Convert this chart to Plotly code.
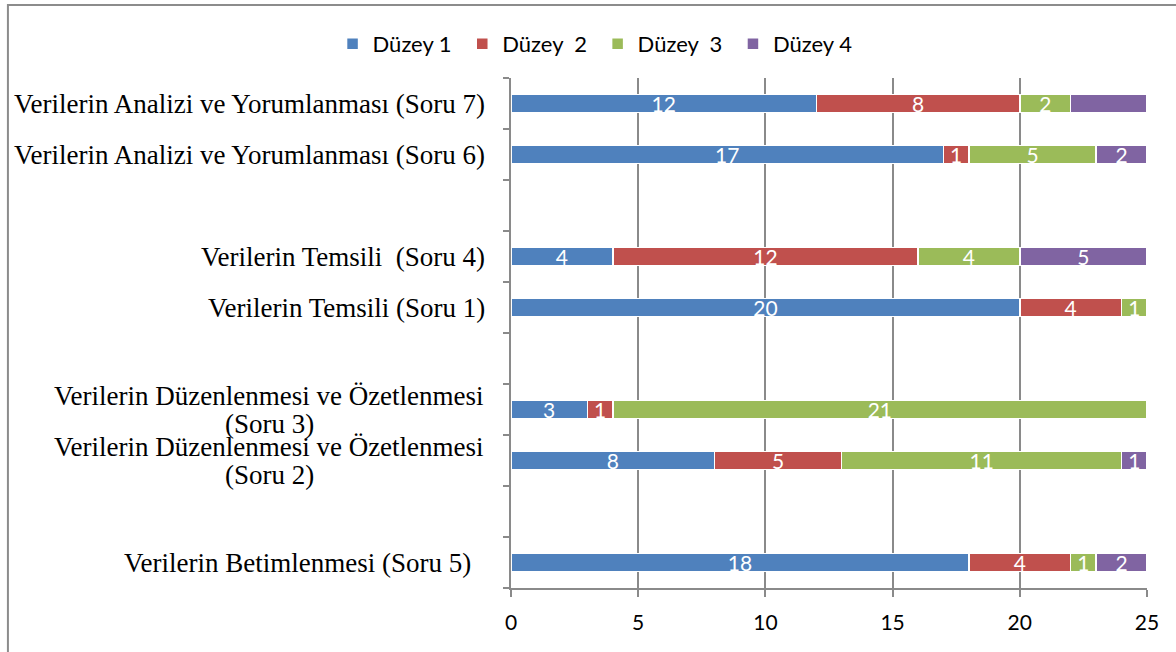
import plotly.graph_objects as go

# Categories from bottom to top (blank names are spacer rows)
categories = [
    "Verilerin Betimlenmesi (Soru 5)\u00a0\u00a0",
    " ",
    "Verilerin Düzenlenmesi ve Özetlenmesi (Soru 2)",
    "Verilerin Düzenlenmesi ve Özetlenmesi (Soru 3)",
    "  ",
    "Verilerin Temsili (Soru 1)",
    "Verilerin Temsili \u00a0(Soru 4)",
    "   ",
    "Verilerin Analizi ve Yorumlanması (Soru 6)",
    "Verilerin Analizi ve Yorumlanması (Soru 7)",
]
# categories whose label is wrapped on two centred lines
wrapped_labels = {
    "Verilerin Düzenlenmesi ve Özetlenmesi (Soru 2)": ["Verilerin Düzenlenmesi ve Özetlenmesi", "(Soru 2)"],
    "Verilerin Düzenlenmesi ve Özetlenmesi (Soru 3)": ["Verilerin Düzenlenmesi ve Özetlenmesi", "(Soru 3)"],
}

series_names = ["Düzey 1\u00a0", "Düzey \u00a02\u00a0", "Düzey \u00a03\u00a0", "Düzey 4"]
duzey1 = [18, None, 8, 3, None, 20, 4, None, 17, 12]
duzey2 = [4, None, 5, 1, None, 4, 12, None, 1, 8]
duzey3 = [1, None, 11, 21, None, 1, 4, None, 5, 2]
duzey4 = [2, None, 1, None, None, None, 5, None, 2, 3]
# value labels not displayed in the original (series index, category index)
hidden_labels = [(3, 9)]

colors = ["#4F81BD", "#C0504D", "#9BBB59", "#8064A2"]
x_ticks = [0, 5, 10, 15, 20, 25]

fig = go.Figure()
for si, (name, vals, col) in enumerate(zip(series_names, [duzey1, duzey2, duzey3, duzey4], colors)):
    texts = []
    for ci, v in enumerate(vals):
        if v is None or (si, ci) in hidden_labels:
            texts.append("")
        else:
            texts.append(str(v))
    fig.add_trace(go.Bar(
        y=categories, x=vals, name=name, orientation="h",
        marker=dict(color=col, line=dict(color="white", width=1.5)),
        text=texts, textposition="inside", insidetextanchor="middle",
        textangle=0, constraintext="none",
        textfont=dict(color="white", size=21, family="Lato"),
        hoverinfo="x+name",
    ))

label_font = dict(family="Liberation Serif", size=27, color="black")
for c in categories:
    if c.strip() == "":
        continue
    if c in wrapped_labels:
        l1, l2 = wrapped_labels[c]
        fig.add_annotation(x=-0.3805, xref="paper", y=c, yref="y", yshift=14,
                           text=l1, showarrow=False, xanchor="center",
                           yanchor="middle", font=label_font)
        fig.add_annotation(x=-0.3805, xref="paper", y=c, yref="y", yshift=-14,
                           text=l2, showarrow=False, xanchor="center",
                           yanchor="middle", font=label_font)
    else:
        fig.add_annotation(x=-0.0377, xref="paper", y=c, yref="y",
                           text=c, showarrow=False, xanchor="right",
                           yanchor="middle", font=label_font)

fig.add_shape(type="rect", xref="paper", yref="paper",
              x0=-0.791, x1=1.10, y0=-0.20, y1=1.143,
              line=dict(color="#8c8c8c", width=2), layer="below")

fig.update_layout(
    barmode="stack",
    bargap=0.647,
    width=1176, height=652,
    margin=dict(l=511, r=29, t=78, b=64),
    plot_bgcolor="white", paper_bgcolor="white",
    showlegend=True,
    legend=dict(orientation="h", xref="container", yref="container",
                x=0.506, y=0.9325, xanchor="center", yanchor="middle",
                font=dict(family="Lato", size=22, color="black"),
                traceorder="normal", itemwidth=30),
    xaxis=dict(range=[0, 25], tickvals=x_ticks, showgrid=True,
               gridcolor="#8a8a8a", gridwidth=2, zeroline=False,
               showline=True, linecolor="#8a8a8a", linewidth=2,
               ticks="outside", ticklen=7, tickcolor="#8a8a8a", tickwidth=2,
               ticklabelstandoff=8,
               tickfont=dict(family="Lato", size=21, color="black")),
    yaxis=dict(categoryorder="array", categoryarray=categories,
               showticklabels=False, showline=True, linecolor="#8a8a8a",
               linewidth=2, ticks="outside", ticklen=6, tickcolor="#8a8a8a",
               tickwidth=2, tickson="boundaries", showgrid=False,
               range=[-0.5, 9.5]),
)

fig.write_html("out.html", config={"displayModeBar": False},
               post_script="document.body.style.margin='0px';")
